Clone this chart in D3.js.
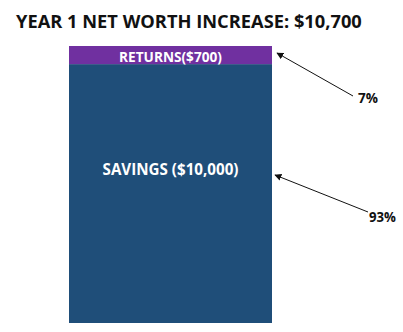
<!DOCTYPE html>
<meta charset="utf-8">
<style>
html, body {
  margin: 0;
  background: #fff;
}

text {
  font-family: "Open Sans", "DejaVu Sans", sans-serif;
  font-weight: 700;
}

.arrow {
  stroke: #111;
  stroke-width: 1px;
  fill: none;
}
</style>

<svg></svg>

<script src="https://d3js.org/d3.v7.min.js"></script>
<script>

var title = 'YEAR 1 NET WORTH INCREASE: $10,700';

// Stack order goes bottom to top
var categories = ['SAVINGS', 'RETURNS'];
var values = [10000, 700];
var barLabels = ['SAVINGS ($10,000)', 'RETURNS($700)'];
var shareLabels = ['93%', '7%'];
var colors = ['#1f4e79', '#7030a0'];

var width = 403;
var height = 332;

var svg = d3.select('svg')
  .attr('width', width)
  .attr('height', height);

svg.append('defs').append('marker')
  .attr('id', 'head')
  .attr('viewBox', '0 0 10 10')
  .attr('refX', 9)
  .attr('refY', 5)
  .attr('markerWidth', 7)
  .attr('markerHeight', 7)
  .attr('markerUnits', 'userSpaceOnUse')
  .attr('orient', 'auto')
  .append('path')
  .attr('d', 'M0,0L10,5L0,10z')
  .attr('fill', '#111');

// one row, one column per category
var row = {};
categories.forEach(function (c, i) { row[c] = values[i]; });
var stacked = d3.stack().keys(categories)([row]);

var x = d3.scaleBand()
  .domain(['year1'])
  .range([69, 272])
  .padding(0);

var y = d3.scaleLinear()
  .domain([0, d3.sum(values)])
  .range([323, 46]);

svg.append('g')
  .selectAll('rect').data(stacked)
  .enter().append('rect')
  .attr('x', x('year1'))
  .attr('width', x.bandwidth())
  .attr('y', function (d) { return y(d[0][1]); })
  .attr('height', function (d) { return y(d[0][0]) - y(d[0][1]); })
  .attr('fill', function (d, i) { return colors[i]; });

// make a text fill a given width, then stretch it to a given cap height
// (Open Sans is wider than the Calibri of the original)
function fit(sel, target, cap) {
  var size = +sel.attr('font-size');
  var w = sel.node().getComputedTextLength();
  size = size * target / w;
  sel.attr('font-size', size);
  var k = cap / (0.714 * size);
  var tx = +sel.attr('x'), ty = +sel.attr('y');
  sel.attr('transform', 'translate(' + tx + ',' + ty + ') scale(1,' + k + ') translate(' + (-tx) + ',' + (-ty) + ')');
}

svg.append('text')
  .attr('x', 16)
  .attr('y', 28)
  .attr('font-size', 18)
  .attr('fill', '#111')
  .text(title)
  .call(fit, 346, 12.8);

var cx = x('year1') + x.bandwidth() / 2;

// label positions inside each segment
var labelY = [175, 62];
var labelWidth = [136, 103];
var labelCap = [11, 10.5];

svg.append('g')
  .selectAll('text').data(barLabels)
  .enter().append('text')
  .attr('x', cx)
  .attr('y', function (d, i) { return labelY[i]; })
  .attr('text-anchor', 'middle')
  .attr('font-size', 14)
  .attr('fill', '#fff')
  .text(function (d) { return d; })
  .each(function (d, i) { fit(d3.select(this), labelWidth[i], labelCap[i]); });

// annotation arrows: tail near the share label, tip just right of the bar
var right = x('year1') + x.bandwidth();
var tips = [[right + 3, 175], [right + 5, 53]];
var tails = [[368, 212], [353, 96]];
var shareX = [369, 358];
var shareY = [222, 103];

svg.append('g')
  .selectAll('line').data(shareLabels)
  .enter().append('line')
  .attr('class', 'arrow')
  .attr('x1', function (d, i) { return tails[i][0]; })
  .attr('y1', function (d, i) { return tails[i][1]; })
  .attr('x2', function (d, i) { return tips[i][0]; })
  .attr('y2', function (d, i) { return tips[i][1]; })
  .attr('marker-end', 'url(#head)');

svg.append('g')
  .selectAll('text').data(shareLabels)
  .enter().append('text')
  .attr('x', function (d, i) { return shareX[i]; })
  .attr('y', function (d, i) { return shareY[i]; })
  .attr('font-size', 13)
  .attr('fill', '#111')
  .text(function (d) { return d; })
  .each(function (d, i) { fit(d3.select(this), i === 0 ? 27 : 20, 10); });

</script>
